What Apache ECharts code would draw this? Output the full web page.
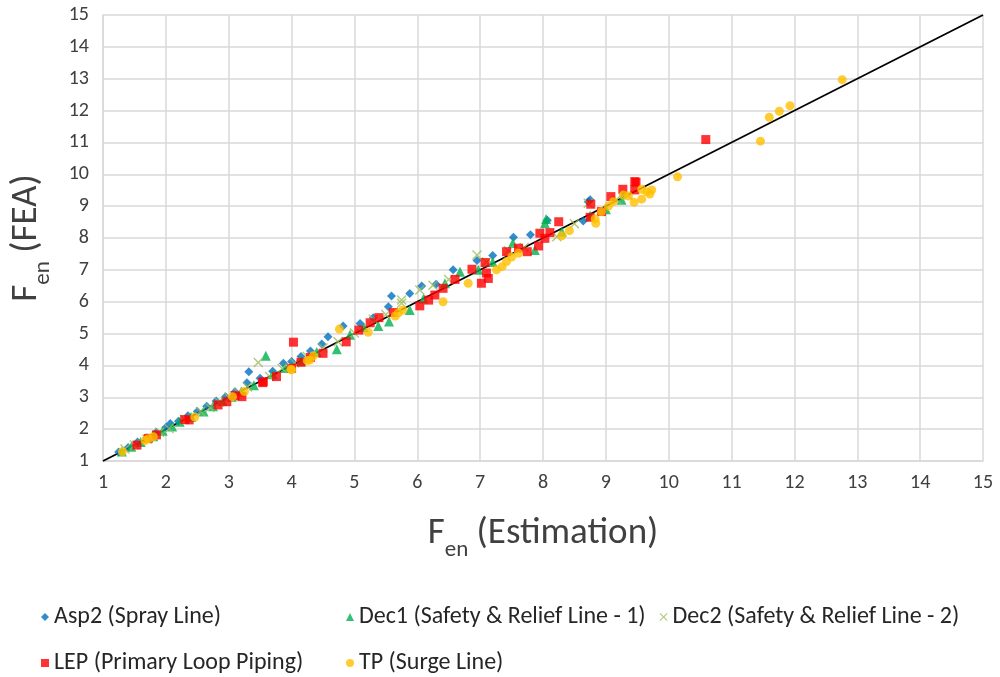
<!DOCTYPE html>
<html>
<head>
<meta charset="utf-8">
<script src="https://cdn.jsdelivr.net/npm/echarts@6/dist/echarts.min.js"></script>
<style>
  html, body { margin: 0; padding: 0; background: #fff; }
  #main { width: 1000px; height: 677px; }
</style>
</head>
<body>
<div id="main"></div>
<script>
// data: [estimation, FEA]
var asp2 = [[1.25,1.28],[1.4,1.42],[1.55,1.6],[1.7,1.73],[1.85,1.9],[2.0,2.05],[2.07,2.18],[2.2,2.25],[2.35,2.42],[2.5,2.55],[2.65,2.72],[2.8,2.88],[2.95,3.02],[3.1,3.17],[3.29,3.46],[3.32,3.8],[3.5,3.6],[3.7,3.82],[3.87,4.07],[4.0,4.12],[4.15,4.28],[4.3,4.45],[4.48,4.67],[4.58,4.9],[4.82,5.24],[5.09,5.32],[5.3,5.5],[5.54,5.84],[5.59,6.18],[5.88,6.26],[6.07,6.49],[6.3,6.55],[6.57,7.0],[6.95,7.29],[7.2,7.45],[7.53,8.02],[7.8,8.1],[8.07,8.56],[8.64,8.53],[8.72,9.14],[8.75,9.2],[9.3,9.35]];
var dec1 = [[1.3,1.3],[1.45,1.45],[1.6,1.6],[1.8,1.78],[1.95,1.95],[2.1,2.08],[2.22,2.23],[2.4,2.38],[2.6,2.55],[2.75,2.72],[2.9,2.88],[3.05,3.02],[3.2,3.18],[3.4,3.38],[3.59,4.3],[3.7,3.72],[3.9,3.92],[4.15,4.15],[4.4,4.42],[4.72,4.51],[4.93,4.96],[5.15,5.2],[5.38,5.24],[5.55,5.38],[5.88,5.74],[6.1,6.1],[6.44,6.58],[6.68,6.94],[6.97,7.0],[7.2,7.25],[7.52,7.84],[7.87,7.62],[8.03,8.46],[8.05,8.6],[8.3,8.2],[8.75,8.7],[9.0,8.9],[9.25,9.2]];
var dec2 = [[1.35,1.38],[1.5,1.5],[1.7,1.68],[1.9,1.9],[2.05,2.02],[2.3,2.3],[2.55,2.55],[2.7,2.68],[2.85,2.85],[3.0,3.0],[3.15,3.15],[3.3,3.32],[3.47,4.09],[3.65,3.65],[3.85,3.9],[4.05,4.08],[4.25,4.28],[4.5,4.55],[4.74,4.74],[5.0,5.02],[5.3,5.45],[5.5,5.6],[5.75,5.95],[5.75,6.05],[6.04,6.37],[6.25,6.52],[6.5,6.7],[6.95,7.47],[7.1,7.25],[7.45,7.6],[7.7,7.7],[8.22,8.04],[8.5,8.45],[8.72,9.09],[9.17,9.21],[9.35,9.35]];
var lep = [[1.54,1.5],[1.72,1.71],[1.85,1.82],[2.3,2.3],[2.37,2.29],[2.83,2.76],[2.97,2.86],[3.1,3.05],[3.21,3.02],[3.54,3.46],[3.55,3.49],[3.76,3.65],[4.0,3.91],[4.03,4.73],[4.15,4.1],[4.3,4.25],[4.5,4.38],[4.87,4.74],[5.07,5.11],[5.25,5.34],[5.39,5.5],[5.62,5.66],[6.04,5.87],[6.18,6.05],[6.28,6.21],[6.41,6.42],[6.6,6.7],[6.87,7.02],[7.08,7.23],[7.02,6.58],[7.13,6.73],[7.1,6.9],[7.42,7.57],[7.61,7.68],[7.75,7.57],[7.93,7.75],[8.03,7.99],[7.95,8.15],[8.11,8.17],[8.25,8.51],[8.75,8.65],[8.76,9.06],[8.93,8.83],[9.08,9.3],[9.27,9.53],[9.46,9.77],[9.46,9.51],[9.48,9.75],[10.59,11.09]];
var tp = [[1.31,1.29],[1.67,1.64],[1.72,1.7],[1.8,1.76],[2.46,2.38],[3.06,3.02],[3.25,3.18],[3.99,3.88],[4.0,3.86],[4.25,4.15],[4.29,4.17],[4.35,4.3],[4.76,5.14],[5.22,5.04],[5.65,5.55],[5.7,5.65],[5.77,5.74],[6.41,6.0],[6.81,6.58],[7.26,7.0],[7.35,7.1],[7.42,7.26],[7.5,7.4],[7.61,7.52],[8.3,8.07],[8.42,8.23],[8.83,8.6],[8.84,8.46],[8.93,8.83],[9.04,9.0],[9.12,9.14],[9.28,9.35],[9.36,9.32],[9.45,9.12],[9.57,9.22],[9.57,9.53],[9.65,9.45],[9.7,9.38],[9.73,9.51],[10.14,9.92],[11.46,11.04],[11.6,11.79],[11.76,11.98],[11.93,12.15],[12.76,12.97]];
var refLine = [[1,1],[15,15]];

var crossPath = 'path://M0,1L1,0L5,4L9,0L10,1L6,5L10,9L9,10L5,6L1,10L0,9L4,5Z';
var font = 'Carlito, Lato, sans-serif';

var chart = echarts.init(document.getElementById('main'));

var titleRich = {
  a: { fontSize: 37, color: '#404040', fontFamily: font },
  s: { fontSize: 23, color: '#404040', fontFamily: font, verticalAlign: 'bottom', padding: [0, 0, -10, 0] }
};
var legendText = { fontSize: 24, color: '#262626', fontFamily: font };

chart.setOption({
  animation: false,
  grid: { left: 103, right: 17, top: 15, bottom: 216, outerBoundsMode: 'none' },
  legend: [
    { left: 36, top: 600, itemWidth: 8, itemHeight: 8, itemGap: 24, textStyle: legendText,
      data: [{ name: 'Asp2 (Spray Line)' }] },
    { left: 341, top: 600, itemWidth: 8, itemHeight: 8, itemGap: 14, textStyle: legendText,
      data: [{ name: 'Dec1 (Safety & Relief Line - 1)' }, { name: 'Dec2 (Safety & Relief Line - 2)' }] },
    { left: 36, top: 646, itemWidth: 8, itemHeight: 8, textStyle: legendText,
      data: [{ name: 'LEP (Primary Loop Piping)' }] },
    { left: 341, top: 646, itemWidth: 8, itemHeight: 8, textStyle: legendText,
      data: [{ name: 'TP (Surge Line)' }] }
  ],
  xAxis: {
    type: 'value', min: 1, max: 15, interval: 1,
    name: '{a|F}{s|en}{a| (Estimation)}',
    nameLocation: 'middle', nameGap: 54,
    nameTextStyle: { rich: titleRich },
    axisLine: { show: true, lineStyle: { color: '#d9d9d9', width: 1.5 } },
    axisTick: { show: false },
    axisLabel: { fontSize: 20, color: '#404040', fontFamily: font, margin: 12 },
    splitLine: { lineStyle: { color: '#d9d9d9', width: 1.5 } }
  },
  yAxis: {
    type: 'value', min: 1, max: 15, interval: 1,
    name: '{a|F}{s|en}{a| (FEA)}',
    nameLocation: 'middle', nameGap: 58, nameRotate: 90,
    nameTextStyle: { rich: titleRich },
    axisLine: { show: true, lineStyle: { color: '#d9d9d9', width: 1.5 } },
    axisTick: { show: false },
    axisLabel: { fontSize: 20, color: '#404040', fontFamily: font, margin: 14 },
    splitLine: { lineStyle: { color: '#d9d9d9', width: 1.5 } }
  },
  series: [
    { name: 'ref', type: 'line', data: refLine, symbol: 'none', silent: true,
      lineStyle: { color: '#000', width: 1.8 }, z: 1 },
    { name: 'Asp2 (Spray Line)', type: 'scatter', data: asp2, symbol: 'diamond', symbolSize: 9,
      itemStyle: { color: '#0070c0' }, z: 2 },
    { name: 'Dec1 (Safety & Relief Line - 1)', type: 'scatter', data: dec1, symbol: 'triangle', symbolSize: 10,
      itemStyle: { color: '#00b050' }, z: 3 },
    { name: 'Dec2 (Safety & Relief Line - 2)', type: 'scatter', data: dec2, symbol: crossPath, symbolSize: 10,
      itemStyle: { color: '#9bbb59' }, z: 4 },
    { name: 'LEP (Primary Loop Piping)', type: 'scatter', data: lep, symbol: 'rect', symbolSize: 9,
      itemStyle: { color: '#ff0000' }, z: 5 },
    { name: 'TP (Surge Line)', type: 'scatter', data: tp, symbol: 'circle', symbolSize: 9,
      itemStyle: { color: '#ffc000' }, z: 6 }
  ]
});
</script>
</body>
</html>
